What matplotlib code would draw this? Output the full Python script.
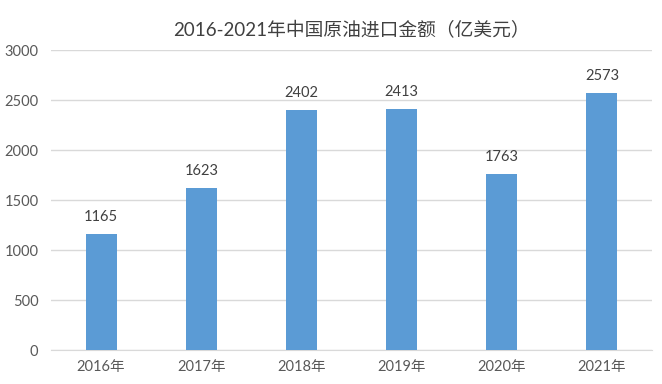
import matplotlib
matplotlib.use("Agg")
import matplotlib.pyplot as plt

plt.rcParams['font.family'] = ['Lato', 'Noto Sans CJK SC', 'DejaVu Sans']

# Data
years = ['2016年', '2017年', '2018年', '2019年', '2020年', '2021年']
amounts = [1165, 1623, 2402, 2413, 1763, 2573]

BAR_COLOR = '#5B9BD5'
GRID_COLOR = '#D9D9D9'
TEXT_COLOR = '#595959'

fig = plt.figure(figsize=(6.62, 3.84), dpi=100)
ax = fig.add_axes([51 / 662, 34 / 384, 601 / 662, 300 / 384])

x = range(len(years))
bars = ax.bar(x, amounts, width=0.31, color=BAR_COLOR, zorder=3)

for xi, v in zip(x, amounts):
    ax.annotate(str(v), (xi, v), xytext=(0, 7), textcoords='offset points',
                ha='center', va='bottom', fontsize=10.5, color='#404040')

ax.set_xlim(-0.5, len(years) - 0.5)
ax.set_ylim(0, 3000)
ax.set_yticks(range(0, 3001, 500))
ax.set_xticks(list(x))
ax.set_xticklabels(years)

ax.grid(axis='y', color=GRID_COLOR, linewidth=1, zorder=0)
for side in ['top', 'right', 'left']:
    ax.spines[side].set_visible(False)
ax.spines['bottom'].set_color(GRID_COLOR)
ax.tick_params(axis='both', length=0, labelsize=10.5, colors=TEXT_COLOR)
ax.tick_params(axis='y', pad=9)
ax.tick_params(axis='x', pad=7)

# title centred over the plot area
fig.text((51 + 601 / 2) / 662, 1 - 30 / 384, '2016-2021年中国原油进口金额（亿美元）',
         ha='center', va='center', fontsize=13.5, color='#404040')

fig.savefig('out.png', dpi=100)
